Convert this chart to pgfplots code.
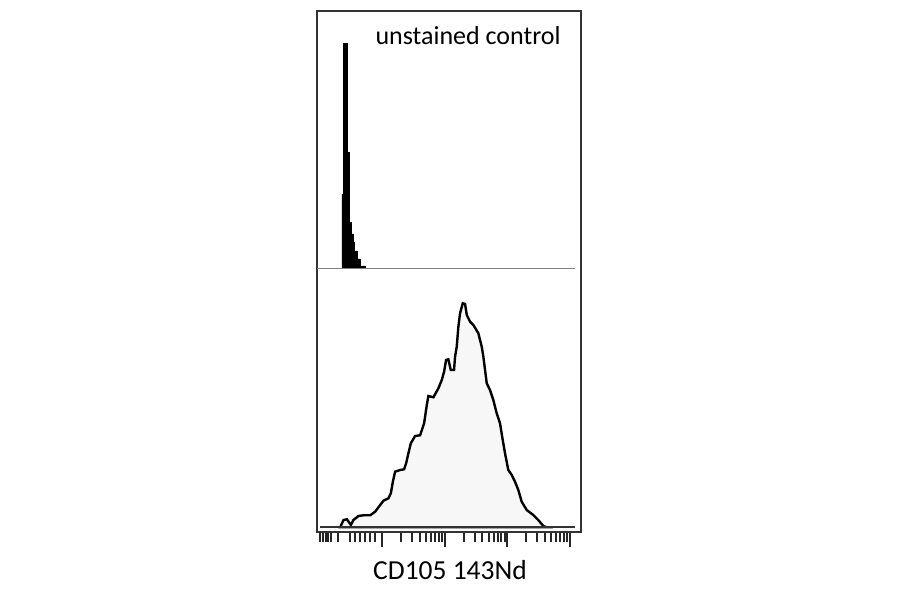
\documentclass[border=0pt]{standalone}
\usepackage{fontspec}
\setmainfont{Carlito}
\usepackage{pgfplots}
\pgfplotsset{compat=1.18}

% x is in decades (log10 of the channel value)
\pgfplotsset{
  cyto/.style={
    scale only axis, width=264bp,
    xmin=-1.04, xmax=3.175,
    ytick=\empty,
  },
}

\begin{document}
\begin{tikzpicture}[x=1bp,y=1bp]
\path (0,0) rectangle (900,594);

% lower panel: stained sample, and the frame with the decade ticks
\begin{axis}[
  cyto,
  at={(317bp,62bp)}, anchor=south west,
  height=521bp,
  ymin=-4.7, ymax=516.3,
  axis line style={draw=black!80, line width=1.8bp},
  xtick={0,1,2,3}, xticklabels={},
  minor xtick={-0.989,-0.949,-0.901,-0.861,-0.813,-0.702,-0.510,-0.431,-0.351,-0.271,-0.191,-0.112,
    0.301,0.477,0.602,0.699,0.778,0.845,0.903,0.954,
    1.301,1.477,1.602,1.699,1.778,1.845,1.903,1.954,
    2.301,2.477,2.602,2.699,2.778,2.845,2.903,2.954},
  xtick pos=bottom, tick align=outside,
  major tick length=15bp, minor tick length=10bp,
  tick style={black!85, line width=2bp},
]
\addplot[draw=black, line width=2.4bp, fill=black!3] coordinates {
  (-0.670,0) (-0.617,7.3) (-0.563,8) (-0.499,2.3) (-0.458,7.3) (-0.378,11.3)
  (-0.298,12) (-0.191,12) (-0.112,15.6) (-0.032,22.3) (0.021,26.6) (0.100,29)
  (0.139,34) (0.171,45.6) (0.207,55.6) (0.287,57.3) (0.351,58) (0.383,64)
  (0.419,74) (0.458,84) (0.526,91.3) (0.606,92) (0.670,104) (0.713,122.3)
  (0.738,131.3) (0.818,130) (0.898,139) (0.952,147.3) (0.989,155.6) (1.021,167.3)
  (1.057,168) (1.096,157.3) (1.148,157.3) (1.164,170.6) (1.191,180.6) (1.217,200.6)
  (1.244,214) (1.287,224) (1.324,223.3) (1.351,212.3) (1.404,205.6) (1.456,202.3)
  (1.536,194) (1.590,180.6) (1.616,170.6) (1.643,157.3) (1.670,144) (1.722,137.3)
  (1.775,127.3) (1.829,114) (1.882,104) (1.925,87.3) (1.962,74) (2.014,57.3)
  (2.069,52.3) (2.121,45.6) (2.174,37.3) (2.228,25.6) (2.308,17.3) (2.413,12.3)
  (2.493,7.3) (2.573,1.3) (2.627,0)
} \closedcycle;
\draw[black!80, line width=1.8bp] (axis cs:-0.989,0) -- (axis cs:3.078,0);
\end{axis}

% upper panel: unstained control
\begin{axis}[
  cyto,
  at={(317bp,325bp)}, anchor=south west,
  height=258bp,
  ymin=0, ymax=258,
  axis lines=none,
]
\addplot[const plot, draw=black, fill=black, line width=0.4bp] coordinates {
  (-0.643,75) (-0.617,225.6) (-0.563,116.6) (-0.521,46.6) (-0.494,35)
  (-0.467,26.6) (-0.442,18) (-0.404,10) (-0.351,3) (-0.271,0)
} \closedcycle;
\draw[black!50, line width=1.8bp] (axis cs:-1.04,0) -- (axis cs:3.078,0);
\end{axis}

\node[anchor=base west, font=\fontsize{26bp}{31bp}\selectfont] at (372,549) {unstained control};
\node[anchor=base, font=\fontsize{27.5bp}{33bp}\selectfont] at (450,14.7) {CD105 143Nd};
\end{tikzpicture}
\end{document}
